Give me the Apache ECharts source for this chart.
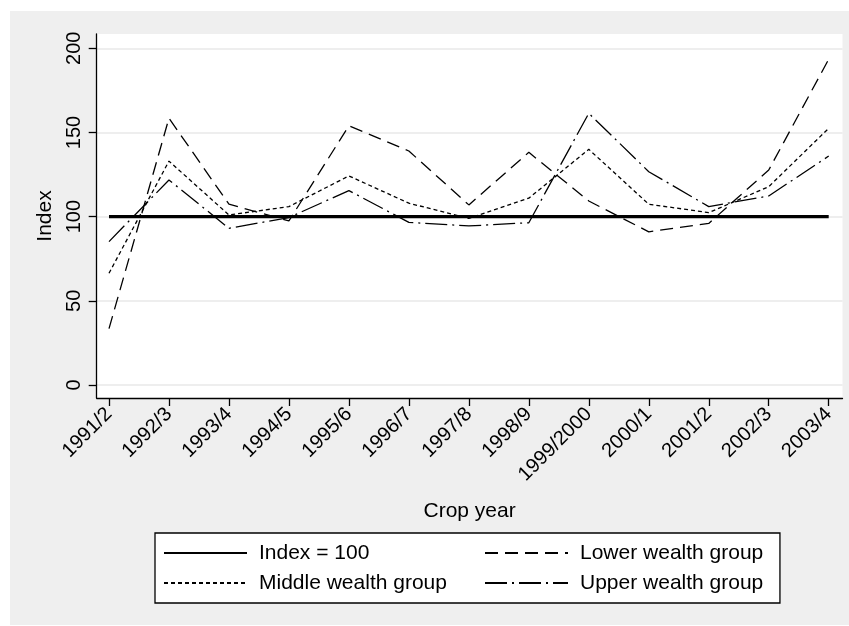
<!DOCTYPE html>
<html>
<head>
<meta charset="utf-8">
<script src="https://cdn.jsdelivr.net/npm/echarts@6/dist/echarts.min.js"></script>
<style>
  html, body { margin: 0; padding: 0; background: #ffffff; }
  #chart { position: absolute; left: 10px; top: 11px; width: 839px; height: 614px; background: #efefef; }
</style>
</head>
<body>
<div id="chart"></div>
<script>
// ---- data ----
const cropYears = ['1991/2','1992/3','1993/4','1994/5','1995/6','1996/7','1997/8','1998/9','1999/2000','2000/1','2001/2','2002/3','2003/4'];
const indexLine = [100,100,100,100,100,100,100,100,100,100,100,100,100];
const lowerWealth  = [33.5, 158.5, 107.4, 97.5, 154, 139, 107, 138.2, 109.3, 91, 96, 127.7, 193.5];
const middleWealth = [66.4, 133, 101, 106, 124.2, 108, 99, 111, 140, 107.4, 102.4, 117.8, 152.5];
const upperWealth  = [85.2, 121.8, 93.1, 99.5, 115.5, 96.6, 94.5, 96.4, 161.4, 126.7, 106, 112.3, 136];
const yTicks = [0, 50, 100, 150, 200];
const xTicks = cropYears.map((c, i) => i);
const legendNames = ['Index = 100', 'Lower wealth group', 'Middle wealth group', 'Upper wealth group'];

const FONT = "'Liberation Sans', Arial, Helvetica, sans-serif";
const pairs = arr => arr.map((v, i) => [i, v]);

const chart = echarts.init(document.getElementById('chart'), null, { renderer: 'canvas' });

const legendCommon = {
  orient: 'vertical',
  itemWidth: 83, itemHeight: 14, itemGap: 9,
  itemStyle: { opacity: 0 },
  textStyle: { fontFamily: FONT, fontSize: 21, color: '#000', padding: [0, 0, 0, 7] }
};

const option = {
  backgroundColor: 'transparent',
  animation: false,
  textStyle: { fontFamily: FONT, color: '#000' },
  grid: {
    left: 86.7, right: 6.5, top: 23, bottom: 227,
    show: true, backgroundColor: '#ffffff', borderWidth: 0
  },
  xAxis: {
    type: 'value',
    min: -0.205, max: 12.23,
    name: 'Crop year',
    nameLocation: 'middle',
    nameGap: 103,
    nameTextStyle: { fontFamily: FONT, fontSize: 21, color: '#000' },
    axisLine: { show: true, onZero: false, lineStyle: { color: '#000', width: 1.3 } },
    axisTick: { show: true, length: 8, customValues: xTicks, lineStyle: { color: '#000', width: 1.3 } },
    axisLabel: {
      customValues: xTicks,
      rotate: 45, margin: 13,
      fontFamily: FONT, fontSize: 20, color: '#000',
      formatter: v => cropYears[Math.round(v)]
    },
    splitLine: { show: false }
  },
  yAxis: {
    type: 'value',
    min: -7.7, max: 208.5,
    name: 'Index',
    nameLocation: 'middle',
    nameGap: 41,
    nameRotate: 90,
    nameTextStyle: { fontFamily: FONT, fontSize: 21, color: '#000' },
    axisLine: { show: true, onZero: false, lineStyle: { color: '#000', width: 1.3 } },
    axisTick: { show: true, length: 8, customValues: yTicks, lineStyle: { color: '#000', width: 1.3 } },
    axisLabel: {
      customValues: yTicks,
      rotate: 90, margin: 12,
      fontFamily: FONT, fontSize: 20, color: '#000'
    },
    splitLine: { show: true, lineStyle: { color: '#e8e8e8', width: 1.5 } }
  },
  legend: [
    Object.assign({}, legendCommon, {
      left: 145, top: 522,
      data: [legendNames[0], legendNames[2]],
      backgroundColor: '#ffffff',
      borderColor: '#000', borderWidth: 1.3,
      padding: [9.5, 333, 9.5, 8],
      z: 4
    }),
    Object.assign({}, legendCommon, {
      left: 474, top: 531.5,
      data: [legendNames[1], legendNames[3]],
      padding: 0,
      z: 6
    })
  ],
  series: [
    { name: legendNames[0], type: 'line', data: pairs(indexLine), symbol: 'none',
      lineStyle: { color: '#000', width: 3.2, type: 'solid' }, itemStyle: { color: '#000' }, z: 5 },
    { name: legendNames[1], type: 'line', data: pairs(lowerWealth), symbol: 'none',
      lineStyle: { color: '#000', width: 1.3, type: [13, 7] }, itemStyle: { color: '#000' } },
    { name: legendNames[2], type: 'line', data: pairs(middleWealth), symbol: 'none',
      lineStyle: { color: '#000', width: 1.3, type: [4, 3] }, itemStyle: { color: '#000' } },
    { name: legendNames[3], type: 'line', data: pairs(upperWealth), symbol: 'none',
      lineStyle: { color: '#000', width: 1.3, type: [22, 5, 2, 5] }, itemStyle: { color: '#000' } }
  ]
};
chart.setOption(option);
</script>
</body>
</html>
